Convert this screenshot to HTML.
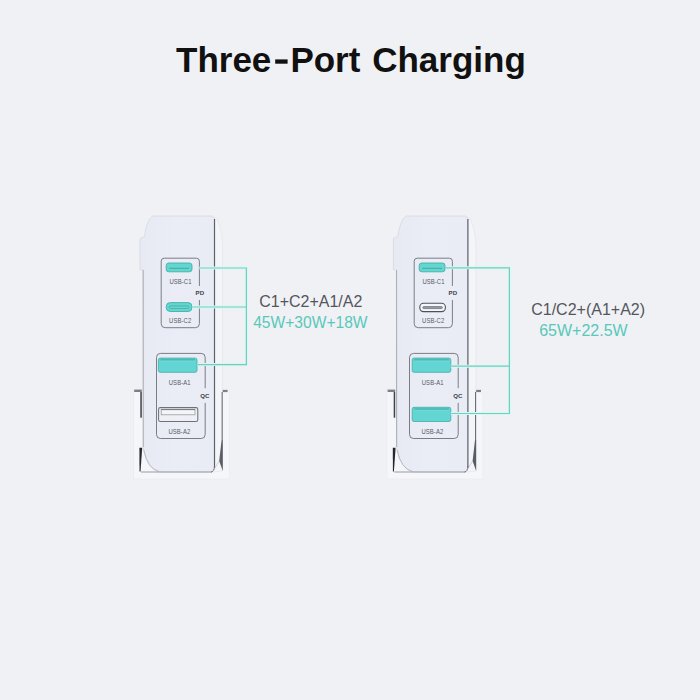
<!DOCTYPE html>
<html><head><meta charset="utf-8">
<style>
html,body{margin:0;padding:0;width:700px;height:700px;overflow:hidden;background:#f0f1f5;}
svg{display:block;position:absolute;left:0;top:0;}
text{font-family:"Liberation Sans",sans-serif;}
</style></head>
<body>
<svg width="700" height="700" viewBox="0 0 700 700">
<defs>
<linearGradient id="face" x1="0" y1="0" x2="1" y2="0">
  <stop offset="0" stop-color="#e7eaf3"/>
  <stop offset="0.5" stop-color="#eaedf6"/>
  <stop offset="1" stop-color="#e9ecf5"/>
</linearGradient>




</defs>
<rect x="0" y="0" width="700" height="700" fill="#f0f1f5"/>
<g fill="#111111" font-size="35" font-weight="bold">
<text x="176" y="72">Three</text>
<rect x="275.2" y="59.4" width="12.4" height="4.3"/>
<text x="290.4" y="72">Port</text>
<text x="372.2" y="72">Charging</text>
</g>

<g transform="translate(0 0)">
  <!-- stand back -->
  <rect x="133.5" y="389.5" width="96" height="89.5" fill="#f5f6f9" stroke="#e8eaee" stroke-width="0.6"/>
  <rect x="134.2" y="389.6" width="7.6" height="2.4" fill="#7c7f86"/>
  <rect x="222" y="389.9" width="5.6" height="2.2" fill="#7c7f86"/>
  <!-- body -->
  <path d="M152.5 216 L212 216 Q214.5 216.5 214.5 219 L214.5 468 Q214 471.5 212 472 L159 472 Q147.5 469 143.5 450 L143 270 L140 269.5 L140 238.6 L144.6 236.4 Q146 222 152.5 216 Z" fill="url(#face)" stroke="#d3d6dc" stroke-width="0.7"/>
  <!-- right band -->
  <path d="M214.5 219 L217 219 Q222.5 232 222.5 248 L222.5 471 L212 472 Q214 471.5 214.5 468 Z" fill="#f4f5f9" stroke="#dcdee4" stroke-width="0.5"/>
  <rect x="213.9" y="219" width="1.2" height="249" fill="#5e626a"/>
  <path d="M214.5 466 Q214.5 471.5 211 472" fill="none" stroke="#6a6d75" stroke-width="1"/>
  <!-- left device edge -->
  <line x1="143.2" y1="270" x2="143.2" y2="447" stroke="#a4a7ae" stroke-width="0.9"/>
  <!-- stand inner left -->
  <rect x="140.3" y="392" width="1.5" height="25.7" fill="#3f4248"/>
  <path d="M139.4 447.7 L142.2 447.7 L140.5 471.6 L139.5 471.6 Z" fill="#26282c"/>
  <!-- stand inner right -->
  <rect x="221.6" y="392" width="1.1" height="48" fill="#6c6f76"/>
  <path d="M221.6 440 L222.8 440 L222.8 471 L219.2 461 Z" fill="#5a5d64"/>
  <!-- bottom curve -->
  <path d="M143.8 450 Q147.5 468.5 159 471.5" fill="none" stroke="#a9acb3" stroke-width="0.7"/>
  <line x1="141" y1="472" x2="212" y2="472" stroke="#8f929a" stroke-width="0.9"/>
  <line x1="213" y1="471" x2="219.2" y2="461" stroke="#b0b3ba" stroke-width="0.6"/></g>
<g transform="translate(253.4 0)">
  <!-- stand back -->
  <rect x="133.5" y="389.5" width="96" height="89.5" fill="#f5f6f9" stroke="#e8eaee" stroke-width="0.6"/>
  <rect x="134.2" y="389.6" width="7.6" height="2.4" fill="#7c7f86"/>
  <rect x="222" y="389.9" width="5.6" height="2.2" fill="#7c7f86"/>
  <!-- body -->
  <path d="M152.5 216 L212 216 Q214.5 216.5 214.5 219 L214.5 468 Q214 471.5 212 472 L159 472 Q147.5 469 143.5 450 L143 270 L140 269.5 L140 238.6 L144.6 236.4 Q146 222 152.5 216 Z" fill="url(#face)" stroke="#d3d6dc" stroke-width="0.7"/>
  <!-- right band -->
  <path d="M214.5 219 L217 219 Q222.5 232 222.5 248 L222.5 471 L212 472 Q214 471.5 214.5 468 Z" fill="#f4f5f9" stroke="#dcdee4" stroke-width="0.5"/>
  <rect x="213.9" y="219" width="1.2" height="249" fill="#5e626a"/>
  <path d="M214.5 466 Q214.5 471.5 211 472" fill="none" stroke="#6a6d75" stroke-width="1"/>
  <!-- left device edge -->
  <line x1="143.2" y1="270" x2="143.2" y2="447" stroke="#a4a7ae" stroke-width="0.9"/>
  <!-- stand inner left -->
  <rect x="140.3" y="392" width="1.5" height="25.7" fill="#3f4248"/>
  <path d="M139.4 447.7 L142.2 447.7 L140.5 471.6 L139.5 471.6 Z" fill="#26282c"/>
  <!-- stand inner right -->
  <rect x="221.6" y="392" width="1.1" height="48" fill="#6c6f76"/>
  <path d="M221.6 440 L222.8 440 L222.8 471 L219.2 461 Z" fill="#5a5d64"/>
  <!-- bottom curve -->
  <path d="M143.8 450 Q147.5 468.5 159 471.5" fill="none" stroke="#a9acb3" stroke-width="0.7"/>
  <line x1="141" y1="472" x2="212" y2="472" stroke="#8f929a" stroke-width="0.9"/>
  <line x1="213" y1="471" x2="219.2" y2="461" stroke="#b0b3ba" stroke-width="0.6"/></g>

<!-- LEFT device ports -->
<g>
  <path d="M199.4 286 L199.4 261.2 Q199.4 258.2 196.4 258.2 L164.2 258.2 Q161.2 258.2 161.2 261.2 L161.2 323.7 Q161.2 327.7 165.2 327.7 L195.4 327.7 Q199.4 327.7 199.4 323.7 L199.4 300" fill="none" stroke="#74777f" stroke-width="0.95"/>
  <g transform="translate(166.2 263)">
  <rect x="0" y="0" width="25.8" height="8.8" rx="2.6" fill="#62d6cf" stroke="#45b0a8" stroke-width="0.9"/>
  <line x1="3" y1="5.3" x2="22.8" y2="5.3" stroke="#3fa59a" stroke-width="0.9"/></g>
  <g transform="translate(166.2 302.6)">
  <rect x="0" y="0" width="25.8" height="8.9" rx="4" fill="#62d6cf" stroke="#45b0a8" stroke-width="0.9"/>
  <rect x="3.2" y="3.4" width="19.4" height="2.4" rx="1.2" fill="#6ddad4" stroke="#3fa59a" stroke-width="0.75"/></g>
  <text transform="translate(180.5 283.6) scale(1 1.13)" text-anchor="middle" font-size="5.9" letter-spacing="0.1" fill="#585b62">USB-C1</text>
  <text transform="translate(180.2 322.9) scale(1 1.13)" text-anchor="middle" font-size="5.9" letter-spacing="0.1" fill="#585b62">USB-C2</text>
  <text x="199.8" y="295.4" text-anchor="middle" font-size="6.1" font-weight="bold" fill="#3c3f45">PD</text>

  <path d="M205.2 388.2 L205.2 357.4 Q205.2 353.4 201.2 353.4 L160.5 353.4 Q156.5 353.4 156.5 357.4 L156.5 434.5 Q156.5 438.5 160.5 438.5 L201.2 438.5 Q205.2 438.5 205.2 434.5 L205.2 402.9" fill="none" stroke="#74777f" stroke-width="0.95"/>
  <g transform="translate(158.4 358.1)">
  <rect x="0" y="0" width="38.6" height="14.2" rx="1.8" fill="#63d5d2" stroke="#4cb2ac" stroke-width="0.9"/>
  <rect x="2" y="0.9" width="34.6" height="1.7" fill="#4cbab4"/>
  <rect x="2" y="2.6" width="34.6" height="0.8" fill="#74dcda"/></g>
  <rect x="158.6" y="407.6" width="39.2" height="13.9" rx="1.8" fill="#eef0f5" stroke="#6e7179" stroke-width="1.05"/>
  <rect x="161.2" y="409.6" width="33.8" height="5.2" fill="#f4f5f9" stroke="#8d9097" stroke-width="0.7"/><line x1="161.2" y1="409.6" x2="195" y2="409.6" stroke="#6e7179" stroke-width="0.9"/>
  <text transform="translate(179.7 384.5) scale(1 1.13)" text-anchor="middle" font-size="5.9" letter-spacing="0.1" fill="#585b62">USB-A1</text>
  <text transform="translate(179.4 433.8) scale(1 1.13)" text-anchor="middle" font-size="5.9" letter-spacing="0.1" fill="#585b62">USB-A2</text>
  <text x="204.8" y="397.7" text-anchor="middle" font-size="6.1" font-weight="bold" fill="#3c3f45">QC</text>

  <g fill="none" stroke-linejoin="miter">
  <polyline points="199.4,268 246.4,268 246.4,364.6 197.8,364.6" stroke="#d6f8f3" stroke-width="3"/>
  <line x1="192.1" y1="307" x2="246.4" y2="307" stroke="#d6f8f3" stroke-width="3"/>
  <polyline points="199.4,268 246.4,268 246.4,364.6 197.8,364.6" stroke="#72cdc2" stroke-width="1.2"/>
  <line x1="192.1" y1="307" x2="246.4" y2="307" stroke="#72cdc2" stroke-width="1.2"/>
  </g>
</g>

<!-- RIGHT device ports -->
<g>
  <path d="M452.4 286 L452.4 261.2 Q452.4 258.2 449.4 258.2 L417.2 258.2 Q414.2 258.2 414.2 261.2 L414.2 323.7 Q414.2 327.7 418.2 327.7 L448.4 327.7 Q452.4 327.7 452.4 323.7 L452.4 300" fill="none" stroke="#74777f" stroke-width="0.95"/>
  <g transform="translate(419.2 263)">
  <rect x="0" y="0" width="25.8" height="8.8" rx="2.6" fill="#62d6cf" stroke="#45b0a8" stroke-width="0.9"/>
  <line x1="3" y1="5.3" x2="22.8" y2="5.3" stroke="#3fa59a" stroke-width="0.9"/></g>
  <rect x="419.8" y="303.2" width="25.6" height="8.4" rx="3.8" fill="#f5f6fa" stroke="#4e5159" stroke-width="1.1"/>
  <rect x="422.8" y="306.6" width="19.6" height="2" rx="1" fill="#9a9da4" stroke="#54575f" stroke-width="0.6"/>
  <text transform="translate(433.5 283.6) scale(1 1.13)" text-anchor="middle" font-size="5.9" letter-spacing="0.1" fill="#585b62">USB-C1</text>
  <text transform="translate(433.2 322.9) scale(1 1.13)" text-anchor="middle" font-size="5.9" letter-spacing="0.1" fill="#585b62">USB-C2</text>
  <text x="452.8" y="295.4" text-anchor="middle" font-size="6.1" font-weight="bold" fill="#3c3f45">PD</text>

  <path d="M458.2 388.2 L458.2 357.4 Q458.2 353.4 454.2 353.4 L413.5 353.4 Q409.5 353.4 409.5 357.4 L409.5 434.5 Q409.5 438.5 413.5 438.5 L454.2 438.5 Q458.2 438.5 458.2 434.5 L458.2 402.9" fill="none" stroke="#74777f" stroke-width="0.95"/>
  <g transform="translate(412.2 358.1)">
  <rect x="0" y="0" width="38.6" height="14.2" rx="1.8" fill="#63d5d2" stroke="#4cb2ac" stroke-width="0.9"/>
  <rect x="2" y="0.9" width="34.6" height="1.7" fill="#4cbab4"/>
  <rect x="2" y="2.6" width="34.6" height="0.8" fill="#74dcda"/></g>
  <g transform="translate(412.2 407.3)">
  <rect x="0" y="0" width="38.6" height="14.2" rx="1.8" fill="#63d5d2" stroke="#4cb2ac" stroke-width="0.9"/>
  <rect x="2" y="0.9" width="34.6" height="1.7" fill="#4cbab4"/>
  <rect x="2" y="2.6" width="34.6" height="0.8" fill="#74dcda"/></g>
  <text transform="translate(432.7 384.5) scale(1 1.13)" text-anchor="middle" font-size="5.9" letter-spacing="0.1" fill="#585b62">USB-A1</text>
  <text transform="translate(432.4 433.8) scale(1 1.13)" text-anchor="middle" font-size="5.9" letter-spacing="0.1" fill="#585b62">USB-A2</text>
  <text x="457.8" y="397.7" text-anchor="middle" font-size="6.1" font-weight="bold" fill="#3c3f45">QC</text>

  <g fill="none" stroke-linejoin="miter">
  <polyline points="446,267.8 509.4,267.8 509.4,413.5 450.8,413.5" stroke="#d6f8f3" stroke-width="3"/>
  <line x1="450.8" y1="366.2" x2="509.4" y2="366.2" stroke="#d6f8f3" stroke-width="3"/>
  <polyline points="446,267.8 509.4,267.8 509.4,413.5 450.8,413.5" stroke="#72cdc2" stroke-width="1.2"/>
  <line x1="450.8" y1="366.2" x2="509.4" y2="366.2" stroke="#72cdc2" stroke-width="1.2"/>
  </g>
</g>

<text x="259.2" y="307" font-size="16" fill="#54565c">C1+C2+A1/A2</text>
<text x="253.2" y="327.5" font-size="15.6" fill="#58c8ba">45W+30W+18W</text>
<text x="531.2" y="314.6" font-size="16" fill="#54565c">C1/C2+(A1+A2)</text>
<text x="539.2" y="335.6" font-size="16" fill="#58c8ba">65W+22.5W</text>
</svg>
</body></html>
